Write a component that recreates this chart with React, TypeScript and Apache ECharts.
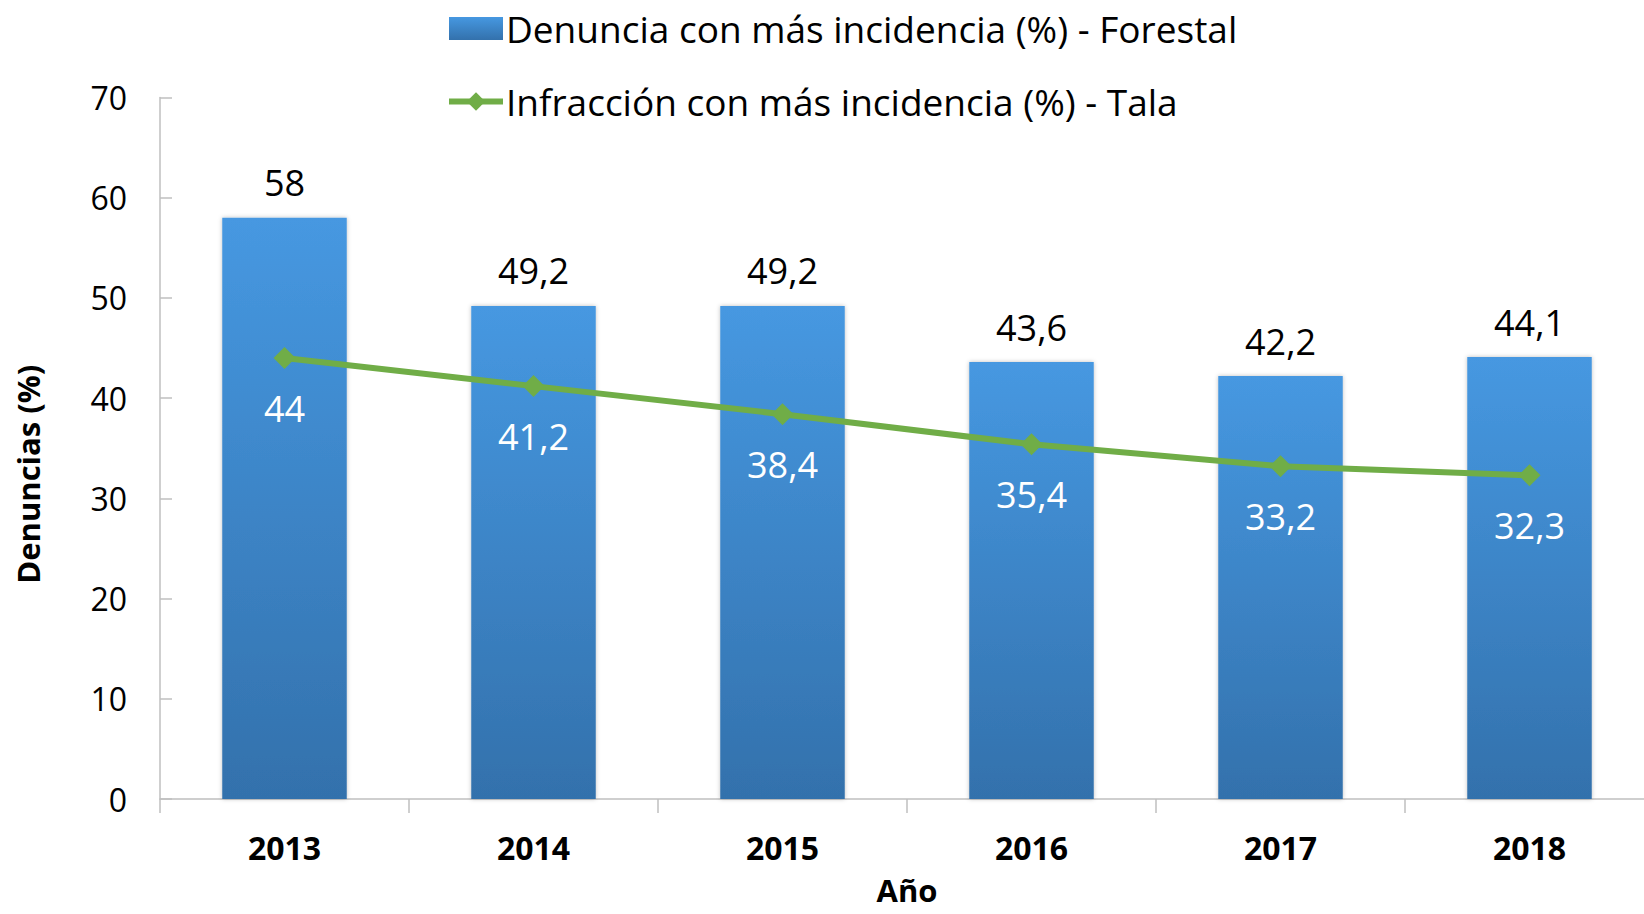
import React, { useEffect, useRef } from "react";
import * as echarts from "echarts";

const years = ["2013", "2014", "2015", "2016", "2017", "2018"];
const denunciaForestal = [58, 49.2, 49.2, 43.6, 42.2, 44.1];
const infraccionTala = [44, 41.2, 38.4, 35.4, 33.2, 32.3];
const barName = "Denuncia con más incidencia (%) - Forestal";
const lineName = "Infracción con más incidencia (%) - Tala";

const FONT = "'Open Sans', 'Liberation Sans', sans-serif";
const fmt = (v: number) => String(v).replace(".", ",");

export default function App() {
  const ref = useRef<HTMLDivElement>(null);
  useEffect(() => {
    const chart = echarts.init(ref.current!, null, { renderer: "svg" });
    chart.setOption({
      animation: false,
      textStyle: { fontFamily: FONT },
      legend: {
        orient: "vertical",
        left: 441,
        top: 5,
        itemWidth: 54,
        itemHeight: 23,
        itemGap: 36,
        textStyle: { fontSize: 37, color: "#000", fontFamily: FONT, padding: [0, 0, 0, -2] },
        data: [
          { name: barName, icon: "rect" },
          { name: lineName, lineStyle: { width: 6, color: "#70AD47" }, itemStyle: { color: "#70AD47" } },
        ],
      },
      grid: {
        left: 160,
        top: 97.5,
        width: 1494,
        height: 701.5,
        containLabel: false,
        outerBoundsMode: "none",
      },
      xAxis: {
        type: "category",
        data: years,
        name: "Año",
        nameLocation: "middle",
        nameGap: 75,
        nameTextStyle: { fontSize: 31, lineHeight: 31, fontWeight: "bold", color: "#000", fontFamily: FONT },
        axisLine: { lineStyle: { color: "#BFBFBF", width: 1.5 } },
        axisTick: { show: true, length: 14, lineStyle: { color: "#BFBFBF", width: 1.5 } },
        axisLabel: { fontSize: 32, fontWeight: "bold", color: "#000", margin: 32, fontFamily: FONT },
      },
      yAxis: {
        type: "value",
        min: 0,
        max: 70,
        interval: 10,
        name: "Denuncias (%)",
        nameLocation: "middle",
        nameGap: 117,
        nameTextStyle: {
          fontSize: 31,
          fontWeight: "bold",
          color: "#000",
          fontFamily: FONT,
          padding: [0, 52, 0, 0],
        },
        axisLine: { show: true, lineStyle: { color: "#BFBFBF", width: 1.5 } },
        axisTick: { show: true, inside: true, length: 12, lineStyle: { color: "#BFBFBF", width: 1.5 } },
        splitLine: { show: false },
        axisLabel: { fontSize: 32, color: "#000", margin: 33, fontFamily: FONT },
      },
      series: [
        {
          name: barName,
          type: "bar",
          data: denunciaForestal,
          barWidth: "50%",
          itemStyle: {
            color: new echarts.graphic.LinearGradient(0, 0, 0, 1, [
              { offset: 0, color: "#4698E1" },
              { offset: 1, color: "#3371AC" },
            ]),
            shadowColor: "rgba(0,0,0,0.25)",
            shadowBlur: 4,
          },
          label: {
            show: true,
            position: "top",
            distance: 17,
            fontSize: 36,
            color: "#000",
            fontFamily: FONT,
            formatter: (p: any) => fmt(p.value),
          },
        },
        {
          name: lineName,
          type: "line",
          data: infraccionTala,
          symbol: "diamond",
          symbolSize: 22,
          lineStyle: { color: "#70AD47", width: 6 },
          itemStyle: { color: "#70AD47" },
          label: {
            show: true,
            position: "bottom",
            distance: 21,
            fontSize: 36,
            color: "#fff",
            fontFamily: FONT,
            formatter: (p: any) => fmt(p.value),
          },
        },
      ],
    });
    return () => chart.dispose();
  }, []);
  return <div ref={ref} style={{ width: 1644, height: 914, position: "absolute", left: 0, top: 0 }} />;
}
